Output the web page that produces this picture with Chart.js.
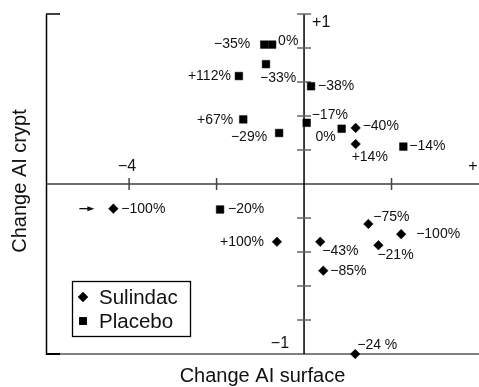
<!DOCTYPE html>
<html>
<head>
<meta charset="utf-8">
<script src="https://cdn.jsdelivr.net/npm/chart.js@4/dist/chart.umd.min.js"></script>
<style>
  html, body { margin: 0; padding: 0; background: #fff; }
</style>
</head>
<body>
<canvas id="chart" width="479" height="387"></canvas>
<script>
// ---- data ----
const sulindacX = [1.18, 1.18, -4.36, -0.62, 0.37, 1.47, 2.22, 1.70, 0.44, 1.17];
const sulindacY = [0.33, 0.235, -0.145, -0.34, -0.34, -0.235, -0.295, -0.36, -0.51, -1.0];
const sulindacLabels = ["−40%", "+14%", "−100%", "+100%", "−43%", "−75%", "−100%", "−21%", "−85%", "−24 %"];

const placeboX = [-0.91, -0.73, -0.87, -1.49, 0.16, -1.39, -0.57, 0.06, 0.86, 2.27, -1.92];
const placeboY = [0.82, 0.82, 0.705, 0.635, 0.575, 0.38, 0.30, 0.36, 0.325, 0.22, -0.15];
const placeboLabels = ["−35%", "0%", "−33%", "+112%", "−38%", "+67%", "−29%", "−17%", "0%", "−14%", "−20%"];

const xTicks = [-4, -2, 2];
const xTickLabels = [[-4, "−4"], [4, "+"]];   // right-hand label is cut off in the figure
const yTicks = [-0.8, -0.6, -0.4, -0.2, 0.2, 0.4, 0.6, 0.8, 1];
const yTickLabels = [[1, "+1"], [-1, "−1"]];
const X_MIN = -5.9, X_MAX = 4, Y_MIN = -1, Y_MAX = 1;

// label placement next to each marker: [align, dx, dy] (layout only)
const sulindacLabelPos = [
  ["left", 7, -2], ["left", -4, 13], ["left", 8, 0], ["right", -13, 0], ["left", 2, 9],
  ["left", 5, -7], ["left", 15, 0], ["left", -1, 10], ["left", 7, 0], ["left", 2, -9]
];
const placeboLabelPos = [
  ["right", -14, 0], ["left", 6, -3], ["left", -6, 14], ["right", -8, 0], ["left", 7, 0],
  ["right", -10, 1], ["right", -12, 4], ["left", 5, -8], ["right", -6, 8], ["left", 6, 0], ["left", 8, 0]
];

const FONT = "'Liberation Sans', Arial, Helvetica, sans-serif";
const toPoints = (xs, ys) => xs.map((x, i) => ({ x: x, y: ys[i] }));

/* =================== axes, labels, legend =================== */
const framePlugin = {
  id: "frame",
  beforeDatasetsDraw(chart) {
    const ctx = chart.ctx;
    const xs = chart.scales.x, ys = chart.scales.y;
    const X = v => xs.getPixelForValue(v), Y = v => ys.getPixelForValue(v);
    const line = (x1, y1, x2, y2, color, w) => {
      ctx.beginPath();
      ctx.strokeStyle = color; ctx.lineWidth = w;
      ctx.moveTo(x1, y1); ctx.lineTo(x2, y2); ctx.stroke();
    };
    ctx.save();
    // horizontal axes (y = 0 and y = -1)
    line(X(X_MIN), Y(0), X(X_MAX), Y(0), "#707070", 2);
    line(X(X_MIN), Y(Y_MIN), X(X_MAX), Y(Y_MIN), "#808080", 2);
    line(X(X_MIN), Y(Y_MIN), X(X_MIN) + 14, Y(Y_MIN), "#000", 2);
    // left frame + top stub
    line(X(X_MIN) + 0.5, Y(Y_MAX), X(X_MIN) + 0.5, Y(Y_MIN) + 1, "#000", 1.5);
    line(X(X_MIN), Y(Y_MAX), X(X_MIN) + 14, Y(Y_MAX), "#000", 1.5);
    // vertical axis at x = 0
    line(X(0), Y(Y_MAX), X(0), Y(Y_MIN), "#000", 1.5);
    yTicks.forEach(v => line(X(0) - 7, Y(v), X(0) + 7, Y(v), "#666", 1.5));
    xTicks.forEach(v => line(X(v), Y(0) - 6, X(v), Y(0) + 6, "#444", 1.5));

    // tick labels
    ctx.fillStyle = "#111";
    ctx.font = "16px " + FONT;
    ctx.textBaseline = "middle";
    ctx.textAlign = "center";
    ctx.fillText(xTickLabels[0][1], X(xTickLabels[0][0]) - 2, Y(0) - 17);
    ctx.fillText(xTickLabels[1][1], X(xTickLabels[1][0]) - 6, Y(0) - 17);
    ctx.textAlign = "left";
    ctx.fillText(yTickLabels[0][1], X(0) + 8, Y(yTickLabels[0][0]) + 9);
    ctx.textAlign = "right";
    ctx.fillText(yTickLabels[1][1], X(0) - 15, Y(yTickLabels[1][0]) - 10);

    // axis titles
    ctx.font = "20px " + FONT;
    ctx.textAlign = "center";
    ctx.fillText("Change AI surface", (chart.chartArea.left + chart.chartArea.right) / 2, 376);
    ctx.save();
    ctx.translate(20, 181);
    ctx.rotate(-Math.PI / 2);
    ctx.fillText("Change AI crypt", 0, 0);
    ctx.restore();
    ctx.restore();
  },
  afterDatasetsDraw(chart) {
    const ctx = chart.ctx;
    ctx.save();
    ctx.fillStyle = "#111";
    ctx.font = "14px " + FONT;
    ctx.textBaseline = "middle";
    const groups = [[0, sulindacLabels, sulindacLabelPos], [1, placeboLabels, placeboLabelPos]];
    groups.forEach(g => {
      const meta = chart.getDatasetMeta(g[0]);
      meta.data.forEach((pt, i) => {
        const p = g[2][i];
        ctx.textAlign = p[0];
        ctx.fillText(g[1][i], pt.x + p[1], pt.y + p[2]);
        // off-scale value: arrow pointing at it
        if (chart.data.datasets[g[0]].data[i].x < xTicks[0]) {
          ctx.beginPath();
          ctx.strokeStyle = "#111"; ctx.lineWidth = 1.3;
          ctx.moveTo(pt.x - 34, pt.y); ctx.lineTo(pt.x - 22, pt.y); ctx.stroke();
          ctx.beginPath();
          ctx.moveTo(pt.x - 19, pt.y);
          ctx.lineTo(pt.x - 26, pt.y - 2.5);
          ctx.lineTo(pt.x - 26, pt.y + 2.5);
          ctx.closePath(); ctx.fill();
        }
      });
    });

    // legend box
    const lx = 72, ly = 281, lw = 118, lh = 55;
    ctx.strokeStyle = "#000"; ctx.lineWidth = 1.3;
    ctx.strokeRect(lx + 0.5, ly + 0.5, lw, lh);
    ctx.font = "20.5px " + FONT;
    ctx.textAlign = "left";
    chart.data.datasets.forEach((ds, i) => {
      const cy = ly + 16 + i * 24;
      Chart.helpers.drawPoint(ctx, {
        pointStyle: ds.pointStyle, radius: i === 0 ? 5 : 5.4, rotation: 0,
        borderWidth: 0
      }, lx + 11, cy);
      ctx.fillStyle = "#000";
      ctx.fill();
      ctx.fillStyle = "#111";
      ctx.fillText(ds.label, lx + 27, cy + 1);
    });
    ctx.restore();
  }
};

new Chart(document.getElementById("chart"), {
  type: "scatter",
  data: {
    datasets: [
      {
        label: "Sulindac",
        data: toPoints(sulindacX, sulindacY),
        pointStyle: "rectRot",
        pointRadius: 4.8,
        backgroundColor: "#000",
        borderColor: "#000",
        borderWidth: 0.5,
        clip: false
      },
      {
        label: "Placebo",
        data: toPoints(placeboX, placeboY),
        pointStyle: "rect",
        pointRadius: 5.4,
        backgroundColor: "#000",
        borderColor: "#000",
        borderWidth: 0.5,
        clip: false
      }
    ]
  },
  options: {
    responsive: false,
    animation: false,
    devicePixelRatio: 1,
    layout: { autoPadding: false, padding: { left: 46, right: 0, top: 14, bottom: 33 } },
    plugins: { legend: { display: false }, tooltip: { enabled: false } },
    scales: {
      x: { type: "linear", min: X_MIN, max: X_MAX, display: false },
      y: { type: "linear", min: Y_MIN, max: Y_MAX, display: false }
    }
  },
  plugins: [framePlugin]
});
</script>
</body>
</html>
